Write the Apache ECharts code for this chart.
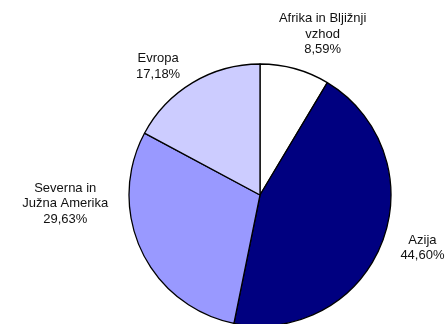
<!DOCTYPE html>
<html><head><meta charset="utf-8">
<script src="https://cdn.jsdelivr.net/npm/echarts@6/dist/echarts.min.js"></script>
<style>html,body{margin:0;padding:0;background:#fff}#c{width:446px;height:324px}</style>
</head><body><div id="c"></div>
<script>
const categories = ['Afrika in Bljižnji\nvzhod', 'Azija', 'Severna in\nJužna Amerika', 'Evropa'];
const shares = [8.59, 44.60, 29.63, 17.18];
const colors = ['#FFFFFF', '#000080', '#9999FF', '#CCCCFF'];
// label nudges relative to the library's outside-label anchor
const labelNudge = [[12, 4], [-2, -9], [-35, -64], [-9, 18]];

const chart = echarts.init(document.getElementById('c'), null, {renderer: 'canvas'});
chart.setOption({
  animation: false,
  series: [{
    type: 'pie',
    center: [260, 195],
    radius: 131,
    startAngle: 90,
    clockwise: true,
    avoidLabelOverlap: false,
    data: categories.map((n, i) => ({name: n, value: shares[i], itemStyle: {color: colors[i]}})),
    itemStyle: {borderColor: '#000', borderWidth: 1.3},
    label: {
      show: true,
      position: 'outside',
      fontFamily: 'Liberation Sans, Arial, sans-serif',
      fontSize: 13,
      lineHeight: 15.5,
      color: '#111',
      formatter: p => p.name + '\n' + p.value.toFixed(2).replace('.', ',') + '%'
    },
    labelLine: {show: false, length: 40, length2: 0},
    emphasis: {disabled: true},
    labelLayout: function (params) {
      const nudge = labelNudge[params.dataIndex];
      return {align: 'center', verticalAlign: 'middle', dx: nudge[0], dy: nudge[1]};
    }
  }]
});
</script></body></html>
